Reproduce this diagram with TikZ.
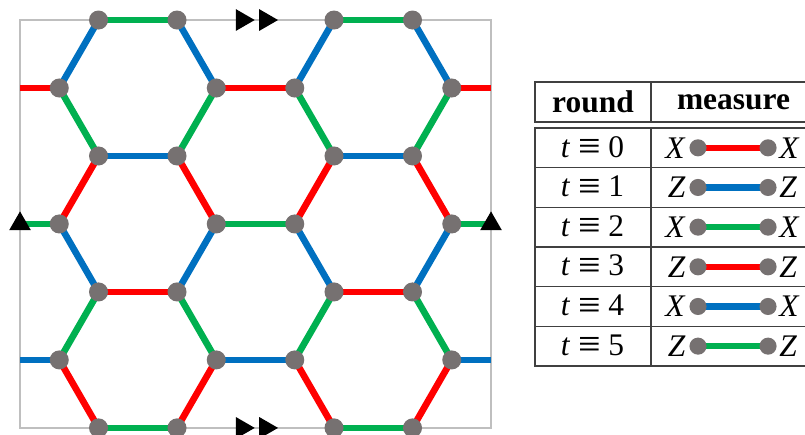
\documentclass[tikz,border=0pt]{standalone}
\usepackage{fontspec}
\setmainfont{Liberation Serif}
\usetikzlibrary{shapes.geometric,backgrounds,positioning}
\definecolor{kred}{HTML}{FF0000}
\definecolor{kblue}{HTML}{0070C0}
\definecolor{kgreen}{HTML}{00B050}
\definecolor{kgray}{HTML}{767171}
\definecolor{keret}{HTML}{BFBFBF}
\tikzset{
  pont/.style={circle,fill=kgray,inner sep=0pt,minimum size=6.9pt},
  kis/.style={pont,minimum size=6.2pt},
  re/.style={kred,line width=2.4pt},
  bl/.style={kblue,line width=2.4pt},
  gr/.style={kgreen,line width=2.4pt},
  jel/.style={regular polygon,regular polygon sides=3,fill=black,inner sep=0pt,minimum size=0.32cm},
  vonal/.style={draw=black!75,line width=0.45pt},
  cella/.style={font=\fontsize{11.4}{13.5}\selectfont},
}
\def\h{0.8660}
\newcommand\ekv{\raisebox{-0.9pt}{\fontsize{14.5}{14}\selectfont ≡}}

\begin{document}
\begin{tikzpicture}
  \useasboundingbox (-0.255,-0.078) rectangle (10.0,5.451);
  % vertices of the lattice
  \foreach \k in {0,2,4,6}
    \foreach \x [count=\i] in {1,2,4,5}
      \node[pont] (v\k\i) at (\x,\k*\h) {};
  \foreach \k in {1,3,5} {
    \foreach \x [count=\i] in {0.5,2.5,3.5,5.5}
      \node[pont] (v\k\i) at (\x,\k*\h) {};
    \coordinate (l\k) at (0,\k*\h);
    \coordinate (r\k) at (6,\k*\h);
  }
  % frame and edges
  \begin{scope}[on background layer]
    \draw[keret,line width=0.7pt] (0,0) rectangle (6,6*\h);
    \foreach \a/\b/\s in {0/1/re,1/2/gr,2/3/bl,3/4/re,4/5/gr,5/6/bl}
      \foreach \i in {1,...,4}
        \draw[\s] (v\a\i.center) -- (v\b\i.center);
    \foreach \k/\s in {0/gr,2/re,4/bl,6/gr} {
      \draw[\s] (v\k1.center) -- (v\k2.center);
      \draw[\s] (v\k3.center) -- (v\k4.center);
    }
    \foreach \k/\s in {1/bl,3/gr,5/re} {
      \draw[\s] (l\k) -- (v\k1.center);
      \draw[\s] (v\k2.center) -- (v\k3.center);
      \draw[\s] (v\k4.center) -- (r\k);
    }
  \end{scope}
  % boundary marks
  \node[jel] (bal) at (l3) {};
  \node[jel] (jobb) at (r3) {};
  \node[jel,rotate=-90] (fel1) at (2.83,6*\h) {};
  \node[jel,rotate=-90] (fel2) at (3.127,6*\h) {};
  \node[jel,rotate=-90] (le1) at (2.83,0) {};
  \node[jel,rotate=-90] (le2) at (3.127,0) {};

  % table
  \draw[vonal] (6.561,4.406) rectangle (10.13,3.897);
  \draw[vonal] (6.561,3.821) rectangle (10.13,0.789);
  \draw[vonal] (8.038,4.406) -- (8.038,3.897);
  \draw[vonal] (8.038,3.821) -- (8.038,0.789);
  \foreach \y in {3.316,2.810,2.305,1.800,1.295}
    \draw[vonal] (6.561,\y) -- (10.13,\y);
  \node[cella,font=\fontsize{11.4}{13.5}\selectfont\bfseries] (fej1) at (7.299,4.152) {round};
  \node[cella,font=\fontsize{11.4}{13.5}\selectfont\bfseries] (fej2) at (9.089,4.152) {measure};
  \foreach \t/\s [count=\j from 0] in {X/re,Z/bl,X/gr,Z/re,X/bl,Z/gr} {
    \node[cella] (kor\j) at (7.293,3.568-\j*0.5053) {\textit{t} \ekv{} \j};
    \node[kis] (mb\j) at (8.637,3.568-\j*0.5053) {};
    \node[kis] (mj\j) at (9.529,3.568-\j*0.5053) {};
    \begin{scope}[on background layer]
      \draw[\s] (mb\j.center) -- (mj\j.center);
    \end{scope}
    \node[cella,inner sep=0pt,left=1pt of mb\j] (bx\j) {\textit{\t}};
    \node[cella,inner sep=0pt,right=0.6pt of mj\j] (jx\j) {\textit{\t}};
  }
\end{tikzpicture}
\end{document}
